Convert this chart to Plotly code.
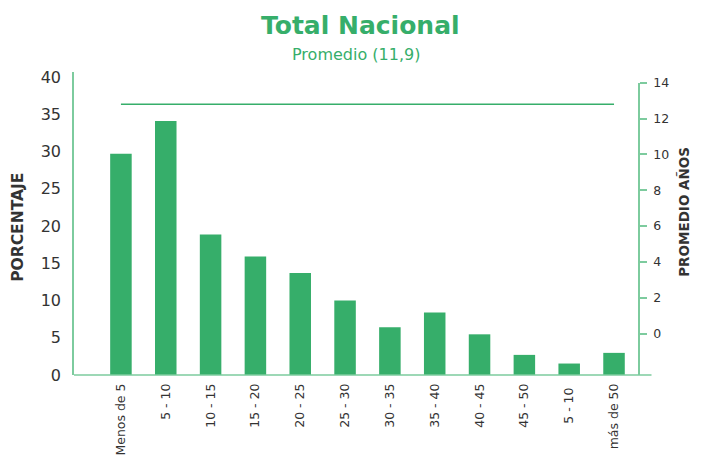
import plotly.graph_objects as go

categorias = ["Menos de 5", "5 - 10", "10 - 15", "15 - 20", "20 - 25", "25 - 30",
              "30 - 35", "35 - 40", "40 - 45", "45 - 50", "5 - 10 ", "más de 50"]
porcentaje = [29.7, 34.1, 18.85, 15.9, 13.7, 10.0, 6.4, 8.4, 5.46, 2.7, 1.54, 2.97]
promedio_anios = [12.8] * len(categorias)

left_ticks = [0, 5, 10, 15, 20, 25, 30, 35, 40]
right_ticks = [0, 2, 4, 6, 8, 10, 12, 14]

GREEN = "#36AE6A"
AXIS = "#7DCB9E"
TEXT = "#333333"
FONT = "DejaVu Sans"

O = 8  # page body margin offset
FW, FH = 701 - 2 * O, 457 - O
L, T, W, H = 74 - O, 72 - O, 564, 303.5  # plot area in pixels (figure coords)


def px(x):
    return (x - O - L) / W


def py(y):
    return (T + H - (y - O)) / H


fig = go.Figure()
fig.add_trace(go.Bar(x=categorias, y=porcentaje, marker=dict(color=GREEN, line=dict(width=0)),
                     width=0.48, yaxis="y", showlegend=False))
fig.add_trace(go.Scatter(x=categorias, y=promedio_anios, mode="lines",
                         line=dict(color=GREEN, width=1.5), yaxis="y2", showlegend=False))

fig.update_layout(
    width=FW, height=FH,
    margin=dict(l=L, r=FW - L - W, t=T, b=FH - T - H),
    paper_bgcolor="white", plot_bgcolor="rgba(0,0,0,0)",
    font=dict(family=FONT, color=TEXT),
    xaxis=dict(type="category", range=[-1.047, 11.535], showgrid=False, showline=False,
               zeroline=False, tickangle=-90, tickfont=dict(size=12.5, color=TEXT),
               ticks="", anchor="y", automargin=False, ticklabelstandoff=5),
    yaxis=dict(range=[0, 40.67], tickvals=left_ticks, showgrid=False, zeroline=False,
               showline=True, linecolor=AXIS, linewidth=1.5, ticks="",
               tickfont=dict(size=16, color=TEXT), ticklabelstandoff=8, domain=[0, 1],
               automargin=False),
    yaxis2=dict(range=[-2.31, 14], tickvals=right_ticks, side="right", anchor="x",
                domain=[0, 0.9647], showgrid=False, zeroline=False, showline=True,
                linecolor=AXIS, linewidth=1.5, ticks="outside", ticklen=7, tickcolor=AXIS,
                tickwidth=1.5, tickfont=dict(size=12.5, color=TEXT), ticklabelstandoff=4,
                automargin=False),
    shapes=[dict(type="line", xref="paper", yref="paper", x0=0, x1=px(651.5), y0=0, y1=0,
                 line=dict(color=AXIS, width=1.5))],
    annotations=[
        dict(text="<b>Total Nacional</b>", showarrow=False, xref="paper", yref="paper",
             x=px(360), y=py(25), xanchor="center", yanchor="middle",
             font=dict(size=25, color=GREEN, family=FONT)),
        dict(text="Promedio (11,9)", showarrow=False, xref="paper", yref="paper",
             x=px(356), y=py(54), xanchor="center", yanchor="middle",
             font=dict(size=16, color=GREEN, family=FONT)),
        dict(text="<b>PORCENTAJE</b>", textangle=-90, showarrow=False, xref="paper", yref="paper",
             x=px(18), y=py(228), xanchor="center", yanchor="middle",
             font=dict(size=15.5, color=TEXT, family=FONT)),
        dict(text="<b>PROMEDIO AÑOS</b>", textangle=-90, showarrow=False, xref="paper",
             yref="paper", x=px(684), y=py(212), xanchor="center", yanchor="middle",
             font=dict(size=13.5, color=TEXT, family=FONT)),
    ],
)

fig.write_html("out.html")
